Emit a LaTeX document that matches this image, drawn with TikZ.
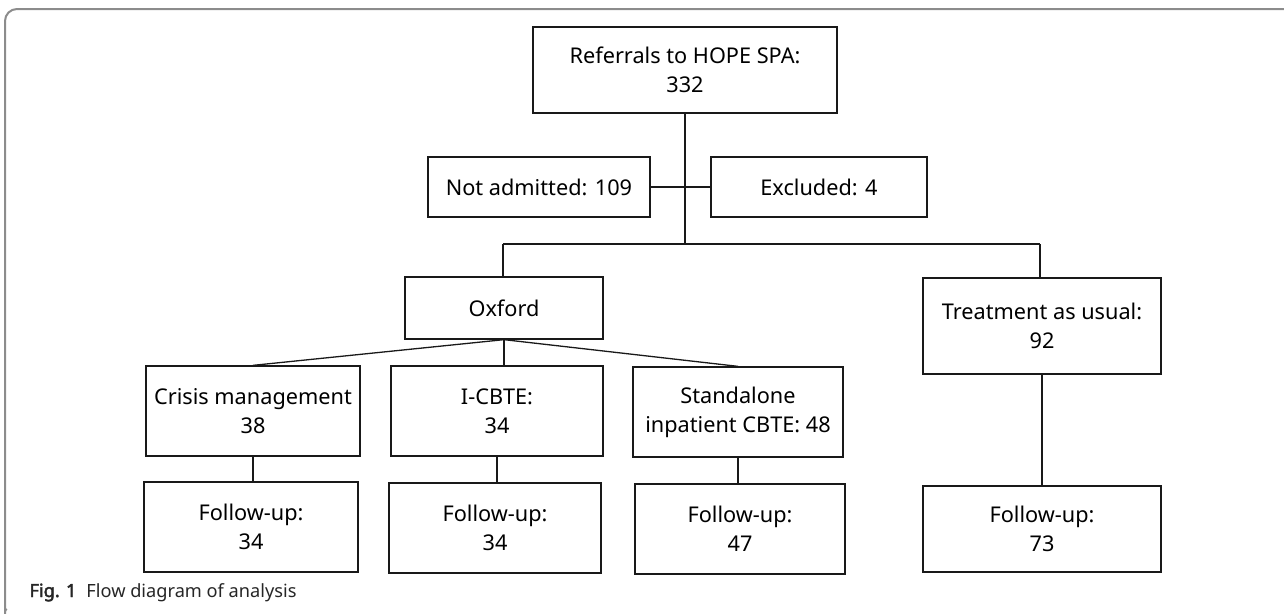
\documentclass[tikz,border=0pt]{standalone}
\usepackage{fontspec}
\setmainfont{Noto Sans}[AutoFakeBold=2.5]
\begin{document}
\begin{tikzpicture}[x=1pt,y=-1pt,
    box/.style={draw=black!90,line width=1.3pt,align=center,inner sep=0pt,
      font=\fontsize{21.7}{29}\selectfont},
    link/.style={draw=black!90,line width=1.3pt}]
      \useasboundingbox (0,0) rectangle (1284,613);
      \draw[black!45,line width=2pt,rounded corners=12pt] (1284,9) -- (5,9) -- (5,606)
        arc[start angle=180,end angle=135,radius=6];
      \draw
        (685,70) node[box,minimum width=304,minimum height=86] (ref){Referrals to HOPE SPA:\\332}
        (539,187) node[box,minimum width=222,minimum height=60] (notadm){Not admitted: 109}
        (819,187) node[box,minimum width=216,minimum height=60] (excl){Excluded: 4}
        (504,308) node[box,minimum width=198,minimum height=62] (oxford){Oxford}
        (1042,326) node[box,minimum width=238,minimum height=96] (tau){Treatment as usual:\\92}
        (253,411) node[box,minimum width=214,minimum height=90] (crisis){Crisis management\\38}
        (497,411) node[box,minimum width=212,minimum height=90] (icbte){I-CBTE:\\34}
        (738,412) node[box,minimum width=210,minimum height=90] (standalone){Standalone\\inpatient CBTE: 48}
        (251,527) node[box,minimum width=214,minimum height=90] (fu1){Follow-up:\\34}
        (495,528) node[box,minimum width=212,minimum height=90] (fu2){Follow-up:\\34}
        (740,529) node[box,minimum width=210,minimum height=90] (fu3){Follow-up:\\47}
        (1042,529) node[box,minimum width=238,minimum height=86] (fu4){Follow-up:\\73};
      \coordinate (split) at (685,244);
      \coordinate (jl) at (503,244);
      \coordinate (jr) at (1040,244);
      \begin{scope}[link]
        \draw (ref.south) to (split);
        \draw (notadm.east) to (excl.west);
        \draw (jl) to (jr);
        \draw (jl) to (jl |- oxford.north);
        \draw (jr) to (jr |- tau.north);
        \draw (oxford.south) to (crisis.north);
        \draw (oxford.south) to (oxford.south |- icbte.north);
        \draw (oxford.south) to (standalone.north);
        \draw (crisis.south) to (crisis.south |- fu1.north);
        \draw (icbte.south) to (icbte.south |- fu2.north);
        \draw (standalone.south) to (standalone.south |- fu3.north);
        \draw (tau.south) to (tau.south |- fu4.north);
      \end{scope}
      \node[anchor=base west,text=black!85,font=\fontsize{18.2}{21}\selectfont] (caption) at (26,597)
        {\textbf{Fig. 1}\hspace{0.55em}Flow diagram of analysis};
    \end{tikzpicture}
\end{document}
